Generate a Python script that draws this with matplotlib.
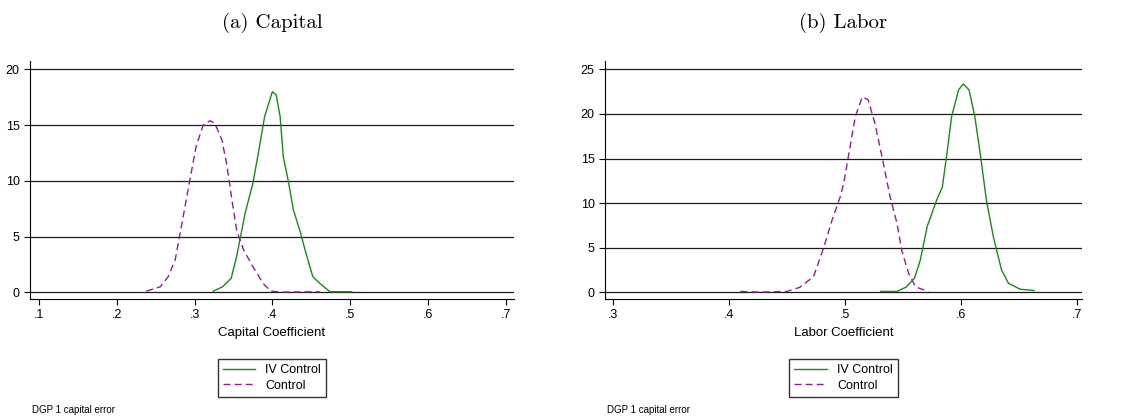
import matplotlib
matplotlib.use("Agg")
from matplotlib import pyplot as plt

plt.rcParams['font.family'] = ['Liberation Sans', 'DejaVu Sans']

# Capital panel: kernel density
cap_iv_x = [0.324, 0.336, 0.347, 0.354, 0.365, 0.375, 0.382, 0.390, 0.400, 0.405,
            0.410, 0.414, 0.421, 0.427, 0.436, 0.442, 0.452, 0.461, 0.474, 0.502]
cap_iv_y = [0.1, 0.5, 1.25, 3.2, 7.1, 9.8, 12.5, 15.75, 18.0, 17.7,
            15.75, 12.2, 9.8, 7.4, 5.4, 3.8, 1.4, 0.8, 0.05, 0.05]
cap_ctl_x = [0.238, 0.256, 0.266, 0.275, 0.283, 0.294, 0.302, 0.311, 0.320, 0.326,
             0.335, 0.341, 0.348, 0.354, 0.363, 0.375, 0.388, 0.398, 0.413, 0.461]
cap_ctl_y = [0.1, 0.5, 1.4, 2.9, 5.9, 10.1, 13.1, 15.0, 15.4, 15.15,
             13.7, 11.6, 8.3, 5.6, 3.8, 2.3, 0.8, 0.1, 0.02, 0.05]

# Labor panel
lab_iv_x = [0.531, 0.545, 0.553, 0.560, 0.565, 0.571, 0.579, 0.584, 0.588, 0.592, 0.598,
            0.602, 0.607, 0.612, 0.617, 0.622, 0.628, 0.635, 0.641, 0.651, 0.663]
lab_iv_y = [0.1, 0.1, 0.6, 1.6, 3.6, 7.4, 10.3, 11.8, 15.6, 19.7, 22.7,
            23.35, 22.7, 19.7, 15.2, 10.3, 6.2, 2.5, 1.0, 0.35, 0.2]
lab_ctl_x = [0.410, 0.427, 0.450, 0.461, 0.473, 0.482, 0.489, 0.496, 0.499, 0.503, 0.509,
             0.515, 0.520, 0.526, 0.532, 0.539, 0.545, 0.549, 0.555, 0.561, 0.572]
lab_ctl_y = [0.1, 0.02, 0.1, 0.55, 1.75, 5.1, 8.1, 10.7, 12.2, 15.2, 19.7,
             21.9, 21.6, 18.9, 15.2, 10.7, 7.7, 4.7, 2.1, 0.6, 0.1]

cap_xticks = [0.1, 0.2, 0.3, 0.4, 0.5, 0.6, 0.7]
cap_yticks = [0, 5, 10, 15, 20]
lab_xticks = [0.3, 0.4, 0.5, 0.6, 0.7]
lab_yticks = [0, 5, 10, 15, 20, 25]

green = '#1a8a1a'
purple = '#8e2090'

fig = plt.figure(figsize=(11.24, 4.19), dpi=100)
ax1 = fig.add_axes([0.0267, 0.2864, 0.4306, 0.568])
ax2 = fig.add_axes([0.5383, 0.2864, 0.4243, 0.568])

panels = [
    (ax1, cap_iv_x, cap_iv_y, cap_ctl_x, cap_ctl_y, cap_xticks, cap_yticks,
     (0.0884, 0.7107), (-0.6, 20.75), "Capital Coefficient", "(a) Capital"),
    (ax2, lab_iv_x, lab_iv_y, lab_ctl_x, lab_ctl_y, lab_xticks, lab_yticks,
     (0.2934, 0.7043), (-0.75, 25.93), "Labor Coefficient", "(b) Labor"),
]

for ax, ivx, ivy, cx, cy, xt, yt, xl, yl, xlab, title in panels:
    ax.plot(ivx, ivy, color=green, lw=1.0, label='IV Control')
    ax.plot(cx, cy, color=purple, lw=1.0, ls=(0, (5, 3)), label='Control')
    ax.set_xlim(*xl)
    ax.set_ylim(*yl)
    ax.set_xticks(xt)
    ax.set_xticklabels(['.' + str(int(round(v * 10))) for v in xt])
    ax.set_yticks(yt)
    for v in yt:
        ax.axhline(v, color='#1a1a1a', lw=0.9, zorder=0)
    for s in ['top', 'right']:
        ax.spines[s].set_visible(False)
    ax.spines['left'].set_linewidth(0.8)
    ax.spines['bottom'].set_linewidth(0.8)
    ax.tick_params(labelsize=9, length=4, width=0.8)
    ax.set_xlabel(xlab, fontsize=9.5, labelpad=4)
    ax.set_title(title, fontsize=15, family='cmr10', y=1.105)
    pos = ax.get_position()
    xc = (pos.x0 + pos.x1) / 2
    ax.legend(loc='upper center', bbox_to_anchor=(xc, 0.158),
              bbox_transform=fig.transFigure, fontsize=9, frameon=True,
              fancybox=False, edgecolor='black', handlelength=2.6,
              borderpad=0.4, labelspacing=0.3)
    fig.text(pos.x0 + 0.002, 0.022, "DGP 1 capital error", fontsize=7, va='center')

plt.savefig("out.png", dpi=100)
